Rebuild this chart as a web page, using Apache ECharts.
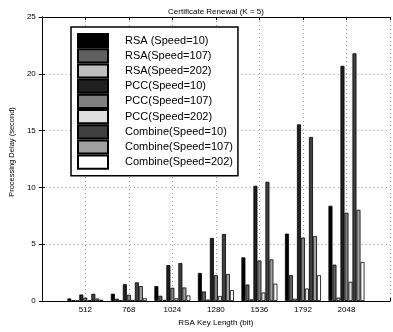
<!DOCTYPE html>
<html><head><meta charset="utf-8">
<script src="https://cdn.jsdelivr.net/npm/echarts@6/dist/echarts.min.js"></script>
<style>html,body{margin:0;padding:0;background:#fff}#c{width:393px;height:332px}</style>
</head><body><div id="c"></div>
<script>
const categories = ['512','768','1024','1280','1536','1792','2048'];
const seriesNames = ['RSA (Speed=10)','RSA(Speed=107)','RSA(Speed=202)','PCC(Speed=10)','PCC(Speed=107)','PCC(Speed=202)','Combine(Speed=10)','Combine(Speed=107)','Combine(Speed=202)'];
const rsa10   = [0.22, 0.64, 1.31, 2.47, 3.84, 5.93, 8.38];
const rsa107  = [0.05, 0.20, 0.46, 0.84, 1.45, 2.27, 3.20];
const rsa202  = [0.02, 0.05, 0.10, 0.12, 0.15, 0.20, 0.30];
const pcc10   = [0.57, 1.48, 3.16, 5.55, 10.14, 15.55, 20.70];
const pcc107  = [0.29, 0.55, 1.16, 2.27, 3.57, 5.58, 7.77];
const pcc202  = [0.05, 0.10, 0.23, 0.44, 0.75, 1.10, 1.69];
const comb10  = [0.63, 1.64, 3.34, 5.90, 10.49, 14.44, 21.80];
const comb107 = [0.22, 1.31, 1.19, 2.38, 3.66, 5.72, 8.03];
const comb202 = [0.10, 0.24, 0.49, 0.96, 1.53, 2.27, 3.43];
const colors = ['#000000','#606060','#bfbfbf','#202020','#808080','#dfdfdf','#404040','#9f9f9f','#ffffff'];
const allData = [rsa10, rsa107, rsa202, pcc10, pcc107, pcc202, comb10, comb107, comb202];

const font = 'Liberation Sans, Arial, Helvetica, sans-serif';
const chart = echarts.init(document.getElementById('c'), null, {renderer:'canvas'});
const gridLine = {show:true, lineStyle:{color:'#9a9a9a', type:[1,3], width:1}};
const xLabel = v => (v >= 1 && v <= categories.length && Number.isInteger(v)) ? categories[v-1] : '';
chart.setOption({
  animation:false,
  backgroundColor:'#fff',
  title:{text:'Certificate Renewal (K = 5)', left:211, top:3, textAlign:'center',
    textStyle:{fontSize:8, fontWeight:'normal', color:'#000', fontFamily:font}},
  grid:{left:30, right:1, top:17, bottom:28, containLabel:false},
  legend:{
    orient:'vertical', left:71, top:27, itemGap:0, itemWidth:30, itemHeight:13.2,
    padding:[6,5,6,6], backgroundColor:'#fff', borderColor:'#000', borderWidth:1.5,
    icon:'rect',
    textStyle:{fontSize:11, color:'#000', fontFamily:font, padding:[0,0,0,12]},
    data:seriesNames
  },
  xAxis:[{
    type:'value', min:0, max:8, interval:1,
    name:'RSA Key Length (bit)', nameLocation:'middle', nameGap:18,
    nameTextStyle:{fontSize:8, color:'#000', fontFamily:font},
    axisLine:{show:true, onZero:false, lineStyle:{color:'#000', width:1}},
    axisTick:{show:true, inside:true, length:3, lineStyle:{color:'#000'}},
    axisLabel:{fontSize:8, color:'#000', fontFamily:font, margin:5, formatter:xLabel},
    splitLine:gridLine
  },{
    type:'value', min:0, max:8, interval:1, position:'top',
    axisLine:{show:true, onZero:false, lineStyle:{color:'#000', width:1}},
    axisTick:{show:true, inside:true, length:3, lineStyle:{color:'#000'}},
    axisLabel:{show:false}, splitLine:{show:false}
  }],
  yAxis:[{
    type:'value', min:0, max:25, interval:5,
    name:'Processing Delay (second)', nameLocation:'middle', nameGap:20,
    nameTextStyle:{fontSize:7.5, color:'#000', fontFamily:font, padding:[0,0,0,14]},
    axisLine:{show:true, lineStyle:{color:'#000', width:1}},
    axisTick:{show:true, inside:true, length:3, lineStyle:{color:'#000'}},
    axisLabel:{fontSize:8, color:'#000', fontFamily:font, margin:6},
    splitLine:gridLine
  },{
    type:'value', min:0, max:25, interval:5, position:'right',
    axisLine:{show:true, lineStyle:{color:'#000', width:1}},
    axisTick:{show:true, inside:true, length:3, lineStyle:{color:'#000'}},
    axisLabel:{show:false}, splitLine:{show:false}
  }],
  series: seriesNames.map((n, k) => ({
    name:n, type:'bar', xAxisIndex:0, yAxisIndex:0,
    barWidth:4, barGap:'0%',
    itemStyle:{color:colors[k], borderColor:'#000', borderWidth:0.8},
    data: categories.map((c, i) => [i + 1, allData[k][i]])
  }))
});
</script></body></html>
